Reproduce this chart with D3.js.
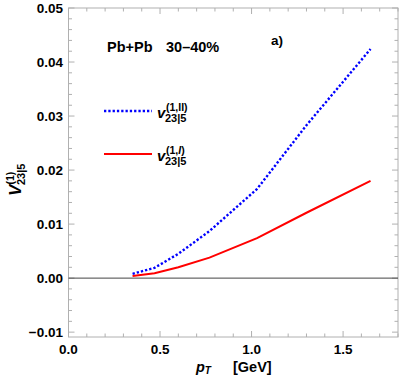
<!DOCTYPE html>
<html lang="en">
<head>
  <meta charset="UTF-8">
  <title>v23|5 vs pT</title>
  <style>
    body { margin: 0; background: #fff; }
    text { font-family: "Liberation Sans", Arial, sans-serif; }
  </style>
</head>
<body>
  <svg width="399" height="380" id="chart"></svg>
  <script src="https://d3js.org/d3.v7.min.js"></script>
  <script>
    // data
    let pt = [0.35, 0.47, 0.6, 0.77, 1.03, 1.3, 1.65];
    let v2II = [0.0008, 0.0019, 0.0045, 0.0087, 0.0165, 0.0283, 0.0424];
    let v2I = [0.0004, 0.0009, 0.0020, 0.0038, 0.0074, 0.0121, 0.0180];
    let xTicks = [0.0, 0.5, 1.0, 1.5];
    let yTicks = [-0.01, 0.00, 0.01, 0.02, 0.03, 0.04, 0.05];

    let svg = d3.select('#chart');
    let mLeft = 68.5, mRight = 398, mTop = 8, mBottom = 337;

    let x = d3.scaleLinear().domain([0, 1.8]).range([mLeft, mRight]);
    let y = d3.scaleLinear().domain([-0.0109, 0.05]).range([mBottom, mTop]);

    let frameColor = '#b0b0b0';
    let dots = '2.3,2';

    // frame
    svg.append('rect')
        .attr('x', mLeft).attr('y', mTop)
        .attr('width', mRight - mLeft).attr('height', mBottom - mTop)
        .attr('fill', 'none').attr('stroke', frameColor).attr('stroke-width', 1);

    // ticks on all sides
    let xMinor = d3.range(0, 1.81, 0.1);
    let yMinor = d3.range(-0.01, 0.0501, 0.002);
    let tickG = svg.append('g').attr('stroke', frameColor).attr('stroke-width', 1);
    xMinor.forEach(v => {
      let major = Math.abs(v * 2 - Math.round(v * 2)) < 1e-6;
      let len = major ? 6 : 3.5;
      tickG.append('line').attr('x1', x(v)).attr('x2', x(v)).attr('y1', mBottom).attr('y2', mBottom - len);
      tickG.append('line').attr('x1', x(v)).attr('x2', x(v)).attr('y1', mTop).attr('y2', mTop + len);
    });
    yMinor.forEach(v => {
      let major = Math.abs(v * 100 - Math.round(v * 100)) < 1e-6;
      let len = major ? 6 : 3.5;
      tickG.append('line').attr('y1', y(v)).attr('y2', y(v)).attr('x1', mLeft).attr('x2', mLeft + len);
      tickG.append('line').attr('y1', y(v)).attr('y2', y(v)).attr('x1', mRight).attr('x2', mRight - len);
    });

    // tick labels
    svg.append('g').selectAll('text').data(xTicks).join('text')
        .attr('x', d => x(d)).attr('y', 354)
        .attr('text-anchor', 'middle')
        .attr('font-size', 13.5).attr('font-weight', 'bold')
        .text(d => d3.format('.1f')(d));
    svg.append('g').selectAll('text').data(yTicks).join('text')
        .attr('x', 63).attr('y', d => y(d) + 4.8)
        .attr('text-anchor', 'end')
        .attr('font-size', 13.5).attr('font-weight', 'bold')
        .text(d => (d < 0 ? '\u2212' : '') + d3.format('.2f')(Math.abs(d)));

    // zero line
    svg.append('line')
        .attr('x1', mLeft).attr('x2', mRight)
        .attr('y1', y(0)).attr('y2', y(0))
        .attr('stroke', '#444').attr('stroke-width', 1);

    // curves
    let line = d3.line().x(d => x(d[0])).y(d => y(d[1]));
    svg.append('path')
        .datum(d3.zip(pt, v2I))
        .attr('d', line)
        .attr('fill', 'none').attr('stroke', '#ff0000').attr('stroke-width', 2);
    svg.append('path')
        .datum(d3.zip(pt, v2II))
        .attr('d', line)
        .attr('fill', 'none').attr('stroke', '#0000ff').attr('stroke-width', 2.4)
        .attr('stroke-dasharray', dots);

    // legend
    svg.append('line').attr('x1', 104).attr('x2', 152).attr('y1', 111).attr('y2', 111)
        .attr('stroke', '#0000ff').attr('stroke-width', 2.4).attr('stroke-dasharray', dots);
    svg.append('line').attr('x1', 104).attr('x2', 152).attr('y1', 154).attr('y2', 154)
        .attr('stroke', '#ff0000').attr('stroke-width', 2);

    function vLabel(xp, yp, sup, supItalic) {
      let t = svg.append('text').attr('x', xp).attr('y', yp)
          .attr('font-size', 15).attr('font-weight', 'bold');
      t.append('tspan').attr('font-style', 'italic').text('v');
      let s = t.append('tspan').attr('font-size', 10.5).attr('x', xp + 9).attr('dy', -7);
      s.append('tspan').text('(1,');
      s.append('tspan').attr('font-style', supItalic ? 'italic' : 'normal').text(sup);
      s.append('tspan').text(')');
      t.append('tspan').attr('font-size', 11).attr('x', xp + 8).attr('dy', 10.5).text('23|5');
    }
    vLabel(157, 118, 'II', false);
    vLabel(157, 161, 'I', true);

    // annotations
    svg.append('text').attr('x', 107).attr('y', 52)
        .attr('font-size', 14.5).attr('font-weight', 'bold')
        .text('Pb+Pb');
    svg.append('text').attr('x', 166).attr('y', 52)
        .attr('font-size', 14.5).attr('font-weight', 'bold')
        .text('30\u201340%');
    svg.append('text').attr('x', 271).attr('y', 45)
        .attr('font-size', 13.5).attr('font-weight', 'bold')
        .text('a)');

    // x title
    let xt = svg.append('text').attr('x', 196).attr('y', 372)
        .attr('font-size', 14.5).attr('font-weight', 'bold');
    xt.append('tspan').attr('font-style', 'italic').text('p');
    xt.append('tspan').attr('font-style', 'italic').attr('font-size', 10).attr('dy', 2).text('T');
    xt.append('tspan').attr('x', 233).attr('dy', -2).text('[GeV]');

    // y title
    let yt = svg.append('text')
        .attr('transform', 'translate(21,196) rotate(-90)')
        .attr('font-size', 17).attr('font-weight', 'bold');
    yt.append('tspan').attr('font-style', 'italic').text('V');
    yt.append('tspan').attr('font-size', 10.5).attr('x', 11.5).attr('dy', -7).text('(1)');
    yt.append('tspan').attr('font-size', 11).attr('x', 11).attr('dy', 11).text('23|5');
  </script>
</body>
</html>
